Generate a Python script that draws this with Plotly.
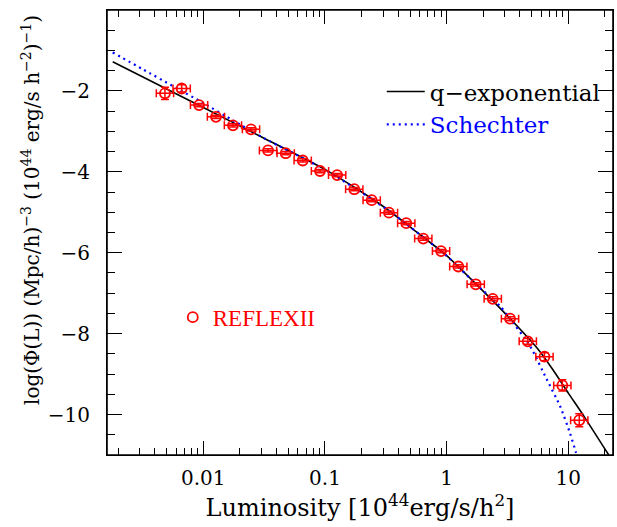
import plotly.graph_objects as go

# ---------------- data ----------------
lum = [0.00484, 0.00664, 0.00923, 0.01271, 0.01753, 0.02466, 0.03404, 0.04755,
       0.06561, 0.0910, 0.1259, 0.1741, 0.2421, 0.3357, 0.4656, 0.6427, 0.8995,
       1.247, 1.734, 2.393, 3.319, 4.645, 6.368, 8.93, 12.30]
log_phi = [-2.06, -1.94, -2.35, -2.64, -2.85, -2.95, -3.47, -3.54, -3.72, -3.98,
           -4.08, -4.43, -4.70, -5.01, -5.27, -5.65, -5.96, -6.34, -6.78, -7.14,
           -7.63, -8.19, -8.57, -9.28, -10.14]
log_phi_err = [0.15, 0.09, 0.04, 0.04, 0.04, 0.04, 0.04, 0.04, 0.04, 0.04,
               0.04, 0.04, 0.04, 0.04, 0.04, 0.04, 0.04, 0.04, 0.04, 0.05,
               0.05, 0.07, 0.10, 0.14, 0.16]
bin_half_width_dex = 0.071

qexp_lum = [0.0018, 0.00316, 0.01, 0.0316, 0.1, 0.178, 0.316, 0.562, 1.0,
            1.78, 3.16, 5.62, 7.5, 10.0, 13.5, 21.5]
qexp_logphi = [-1.28, -1.65, -2.41, -3.17, -3.94, -4.40, -4.90, -5.48, -6.07,
               -6.80, -7.56, -8.38, -8.90, -9.47, -10.05, -11.0]

sch_lum = [0.0018, 0.00316, 0.00562, 0.01, 0.0178, 0.0316, 0.1, 0.316, 1.0,
           1.78, 2.75, 3.16, 4.85, 6.65, 8.55, 10.3, 11.5, 11.7]
sch_logphi = [-1.05, -1.46, -1.88, -2.30, -2.74, -3.17, -3.95, -4.91, -6.08,
              -6.80, -7.32, -7.55, -8.31, -9.13, -9.79, -10.45, -10.92, -11.0]

x_tick_vals = [0.01, 0.1, 1, 10]
x_tick_text = ["0.01", "0.1", "1", "10"]
y_tick_vals = [0, -2, -4, -6, -8, -10]
y_tick_text = ["0", "\u22122", "\u22124", "\u22126", "\u22128", "\u221210"]

# ---------------- figure ----------------
up = 10 ** bin_half_width_dex - 1
dn = 1 - 10 ** (-bin_half_width_dex)
err_plus = [v * up for v in lum]
err_minus = [v * dn for v in lum]

SERIF = "DejaVu Serif"
RED = "#ff0000"
BLUE = "#0000ff"

fig = go.Figure()

fig.add_trace(go.Scatter(
    x=qexp_lum, y=qexp_logphi, mode="lines", name="q\u2212exponential",
    line=dict(color="black", width=1.6, shape="spline", smoothing=0.6),
    legend="legend",
))
fig.add_trace(go.Scatter(
    x=sch_lum, y=sch_logphi, mode="lines",
    name='<span style="color:#0000ff">Schechter</span>',
    line=dict(color=BLUE, width=2.2, dash="2px,4px", shape="spline", smoothing=0.6),
    legend="legend",
))
fig.add_trace(go.Scatter(
    x=lum, y=log_phi, mode="markers", name="REFLEXII",
    marker=dict(symbol="circle-open", size=10, color=RED, line=dict(width=1.8, color=RED)),
    error_x=dict(type="data", symmetric=False, array=err_plus, arrayminus=err_minus,
                 color=RED, thickness=1.5, width=4),
    error_y=dict(type="data", array=log_phi_err, color=RED, thickness=1.5, width=4),
    legend="legend2",
))

axis_common = dict(
    showline=True, linecolor="black", mirror="ticks", automargin=False,
    ticks="inside", tickcolor="black", tickwidth=1.3,
    gridcolor="rgba(255,255,255,0)", zerolinecolor="rgba(255,255,255,0)",
    tickfont=dict(family=SERIF, size=20, color="black"),
)

fig.update_xaxes(
    type="log", range=[-2.7915, 1.3673],
    tickmode="array", tickvals=x_tick_vals, ticktext=x_tick_text, ticklen=14,
    minor=dict(ticks="inside", ticklen=7, dtick="D1", tickcolor="black", tickwidth=1.2),
    ticklabelstandoff=5,
    title=dict(text="Luminosity [10<sup>44</sup>erg/s/h<sup>2</sup>]",
               font=dict(family=SERIF, size=24, color="black"), standoff=6),
    **axis_common,
)
fig.update_yaxes(
    range=[-11, 0],
    tickmode="array", tickvals=y_tick_vals, ticktext=y_tick_text, ticklen=15,
    minor=dict(ticks="inside", ticklen=8, dtick=0.5, tickcolor="black", tickwidth=1.2),
    ticklabelstandoff=12,
    **axis_common,
)

# thicker plot frame
fig.add_shape(type="rect", xref="paper", yref="paper", x0=0, x1=1, y0=0, y1=1,
              line=dict(color="black", width=1.6), fillcolor="rgba(0,0,0,0)", layer="above")

fig.add_annotation(
    text="log(\u03a6(L)) (Mpc/h)<sup>\u22123</sup> (10<sup>44</sup> erg/s h<sup>\u22122</sup>)<sup>\u22121</sup>)",
    textangle=-90, xref="paper", yref="paper", x=0, y=0.5506,
    xanchor="center", yanchor="middle", xshift=-76, showarrow=False,
    font=dict(family=SERIF, size=20, color="black"),
)

fig.update_layout(
    width=617, height=527,
    margin=dict(l=107, r=4, t=10, b=72),
    paper_bgcolor="white", plot_bgcolor="white",
    showlegend=True,
    legend=dict(x=0.543, y=0.865, xanchor="left", yanchor="top",
                bgcolor="rgba(0,0,0,0)", borderwidth=0, itemwidth=38,
                font=dict(family=SERIF, size=23, color="black"),
                tracegroupgap=0),
    legend2=dict(x=0.13, y=0.358, xanchor="left", yanchor="top",
                 bgcolor="rgba(0,0,0,0)", borderwidth=0,
                 font=dict(family="Liberation Serif", size=23, color=RED)),
)

fig.write_html("out.html")
